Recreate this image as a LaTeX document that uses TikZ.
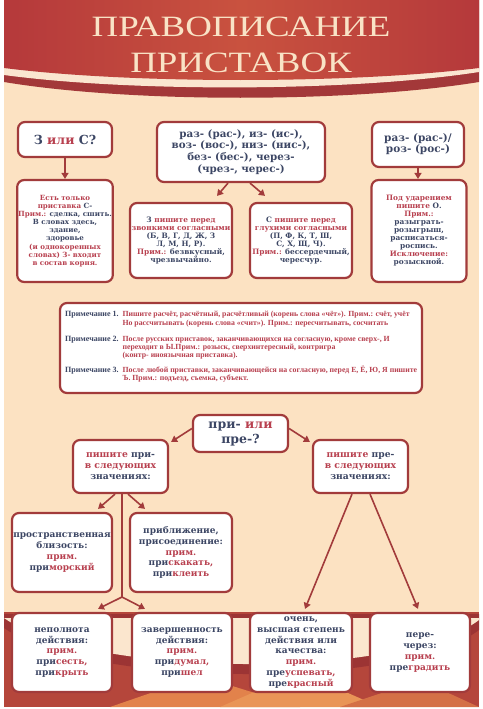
\documentclass[tikz,border=0pt]{standalone}
\usepackage{fontspec}
\setmainfont{DejaVu Serif}
\newfontfamily\titlefont[FakeStretch=1.25]{Liberation Serif}
\newfontfamily\notefont{Liberation Serif}
\usetikzlibrary{arrows.meta}
\definecolor{bgc}{HTML}{FCE2C2}
\definecolor{bowl}{HTML}{FBE6CE}
\definecolor{bord}{HTML}{A23B3B}
\definecolor{tdark}{HTML}{3C4664}
\definecolor{tred}{HTML}{B8404F}
\definecolor{band}{HTML}{B5393B}
\definecolor{bandmid}{HTML}{C9523F}
\definecolor{bandd}{HTML}{A33839}
\definecolor{stripe}{HTML}{FAE6D0}
\definecolor{ttl}{HTML}{F9E3C6}
\definecolor{lowred}{HTML}{B5463B}
\definecolor{loworange}{HTML}{E2824B}
\definecolor{lowlight}{HTML}{E99557}
\definecolor{lowdark}{HTML}{9C3434}
\newcommand{\dk}[1]{\textcolor{tdark}{#1}}
\newcommand{\rd}[1]{\textcolor{tred}{#1}}
\begin{document}
\begin{tikzpicture}[x=1pt,y=-1pt,
  box/.style={draw=bord, line width=2.2pt, rounded corners=7pt, fill=white, align=center, inner sep=1pt},
  arr/.style={draw=bord, line width=1.6pt, -{Triangle[length=6pt,width=7pt]}},
  ln/.style={draw=bord, line width=1.6pt}]
\fill[white] (0,0) rectangle (482,709);
\useasboundingbox (0,0) rectangle (482,709);
\fill[bgc] (4,0) rectangle (479,707);
% title band
\fill[bandd] (4,0) -- (479,0) -- (479,82) .. controls (350,103) and (130,103) .. (4,82) -- cycle;
\fill[stripe] (4,0) -- (479,0) -- (479,72) .. controls (350,92) and (130,92) .. (4,75) -- cycle;
\shade[left color=band, right color=band, middle color=bandmid] (4,0) -- (479,0) -- (479,68) .. controls (350,84) and (130,84) .. (4,68) -- cycle;
\node[font=\titlefont\fontsize{29.5}{29}\selectfont, text=ttl, anchor=base] (t1) at (241,37) {ПРАВОПИСАНИЕ};
\node[font=\titlefont\fontsize{29.5}{29}\selectfont, text=ttl, anchor=base] (t2) at (241,73) {ПРИСТАВОК};
% bottom decoration
\fill[lowred] (4,612) rectangle (479,707);
\fill[loworange] (110,707) -- (200,676) -- (300,707) -- cycle;
\fill[lowlight] (220,707) -- (300,672) -- (380,707) -- cycle;
\fill[loworange!70!lowred] (340,707) -- (420,680) -- (479,707) -- cycle;
\fill[lowdark] (4,614) -- (479,614) -- (479,630) .. controls (400,690) and (90,688) .. (4,628) -- cycle;
\fill[bowl] (4,618) -- (479,618) -- (479,620) .. controls (400,680) and (90,678) .. (4,618) -- cycle;
% row 1
\node[box, minimum width=94pt, minimum height=35pt, font=\bfseries\fontsize{12.5}{14}\selectfont] (A) at (65,139.5) {\dk{З} \rd{или} \dk{С?}};
\node[box, minimum width=168pt, minimum height=60pt, font=\bfseries\fontsize{10.3}{11.7}\selectfont, text=tdark] (B) at (241,152) {раз- (рас-), из- (ис-),\\воз- (вос-), низ- (нис-),\\без- (бес-), через-\\(чрез-, черес-)};
\node[box, minimum width=92pt, minimum height=45pt, font=\bfseries\fontsize{10.5}{10}\selectfont, text=tdark] (C) at (418,144.5) {раз- (рас-)/\\роз- (рос-)};
% row 2
\node[box, minimum width=94pt, minimum height=102pt, font=\bfseries\fontsize{7.1}{8.1}\selectfont] (D) at (65,231) {\rd{Есть только}\\\rd{приставка} \dk{С-}\\\rd{Прим.:} \dk{сделка, сшить.}\\\dk{В словах здесь,}\\\dk{здание,}\\\dk{здоровье}\\\rd{(и однокоренных}\\\rd{словах) З- входит}\\\rd{в состав корня.}};
\node[box, minimum width=102pt, minimum height=75pt, font=\bfseries\fontsize{7.4}{8.1}\selectfont] (E) at (181,240.5) {\dk{З} \rd{пишите перед}\\\rd{звонкими согласными}\\\dk{(Б, В, Г, Д, Ж, З}\\\dk{Л, М, Н, Р).}\\\rd{Прим.:} \dk{безвкусный,}\\\dk{чрезвычайно.}};
\node[box, minimum width=102pt, minimum height=75pt, font=\bfseries\fontsize{7.4}{8.1}\selectfont] (G) at (301,240.5) {\dk{С} \rd{пишите перед}\\\rd{глухими согласными}\\\dk{(П, Ф, К, Т, Ш,}\\\dk{С, Х, Щ, Ч).}\\\rd{Прим.:} \dk{бессердечный,}\\\dk{чересчур.}};
\node[box, minimum width=95pt, minimum height=102pt, font=\bfseries\fontsize{7.4}{8}\selectfont] (F) at (419,231) {\rd{Под ударением}\\\rd{пишите} \dk{О.}\\\rd{Прим.:}\\\dk{разыграть-}\\\dk{розыгрыш,}\\\dk{расписаться-}\\\dk{роспись.}\\\rd{Исключение:}\\\dk{розыскной.}};
\draw[arr] (A) -- (D);
\draw[arr] (C.south) -- (C.south |- F.north);
\draw[arr] ([xshift=-13pt]B.south) -- ([xshift=36pt,yshift=6pt]E.north);
\draw[arr] ([xshift=9pt]B.south) -- ([xshift=-36pt,yshift=6pt]G.north);
% notes
\node[box, minimum width=362pt, minimum height=90pt] (notes) at (241,348) {};
\node[anchor=north west, inner sep=0pt, align=left, font=\notefont\bfseries\fontsize{7.8}{8.2}\selectfont] (ntext) at (65,311) {%
\begin{tabular}{@{}l@{\hspace{4pt}}l@{}}
\dk{\fontsize{8}{8.2}\selectfont Примечание 1.} & \rd{Пишите расчёт, расчётный, расчётливый (корень слова «чёт»). Прим.: счёт, учёт}\\
 & \rd{Но рассчитывать (корень слова «счит»). Прим.: пересчитывать, сосчитать}\\[8pt]
\dk{\fontsize{8}{8.2}\selectfont Примечание 2.} & \rd{После русских приставок, заканчивающихся на согласную, кроме сверх-, И}\\
 & \rd{переходит в Ы.Прим.: розыск, сверхинтересный, контригра}\\
 & \rd{(контр- иноязычная приставка).}\\[6pt]
\dk{\fontsize{8}{8.2}\selectfont Примечание 3.} & \rd{После любой приставки, заканчивающейся на согласную, перед Е, Ё, Ю, Я пишите}\\
 & \rd{Ъ. Прим.: подъезд, съемка, субъект.}
\end{tabular}};
% при / пре
\node[box, minimum width=95pt, minimum height=37pt, font=\bfseries\fontsize{12.5}{15}\selectfont] (H) at (240.5,433.5) {\dk{при-} \rd{или}\\\dk{пре-?}};
\node[box, minimum width=95pt, minimum height=53pt, font=\bfseries\fontsize{9.2}{11}\selectfont] (I) at (120.5,466.5) {\rd{пишите} \dk{при-}\\\rd{в следующих}\\\dk{значениях:}};
\node[box, minimum width=95pt, minimum height=53pt, font=\bfseries\fontsize{9.2}{11}\selectfont] (J) at (360.5,466.5) {\rd{пишите} \dk{пре-}\\\rd{в следующих}\\\dk{значениях:}};
\draw[arr] ([yshift=5pt]H.west) -- ([xshift=2pt,yshift=-3pt]I.north east);
\draw[arr] ([yshift=5pt]H.east) -- ([xshift=-2pt,yshift=-3pt]J.north west);
% row 3
\node[box, minimum width=100pt, minimum height=79pt, font=\bfseries\fontsize{9}{10.7}\selectfont] (K) at (62,552.5) {\dk{пространственная}\\\dk{близость:}\\\rd{прим.}\\\dk{при}\rd{морский}};
\node[box, minimum width=102pt, minimum height=79pt, font=\bfseries\fontsize{9}{10.7}\selectfont] (L) at (181,552.5) {\dk{приближение,}\\\dk{присоединение:}\\\rd{прим.}\\\dk{при}\rd{скакать,}\\\dk{при}\rd{клеить}};
% row 4
\node[box, minimum width=100pt, minimum height=79pt, font=\bfseries\fontsize{9}{10.7}\selectfont] (M) at (62,652.5) {\dk{неполнота}\\\dk{действия:}\\\rd{прим.}\\\dk{при}\rd{сесть,}\\\dk{при}\rd{крыть}};
\node[box, minimum width=100pt, minimum height=79pt, font=\bfseries\fontsize{9}{10.7}\selectfont] (N) at (182,652.5) {\dk{завершенность}\\\dk{действия:}\\\rd{прим.}\\\dk{при}\rd{думал,}\\\dk{при}\rd{шел}};
\node[box, minimum width=102pt, minimum height=79pt, font=\bfseries\fontsize{9}{10.7}\selectfont] (O) at (301,652.5) {\dk{очень,}\\\dk{высшая степень}\\\dk{действия или}\\\dk{качества:}\\\rd{прим.}\\\dk{пре}\rd{успевать,}\\\dk{пре}\rd{красный}};
\node[box, minimum width=100pt, minimum height=79pt, font=\bfseries\fontsize{9}{10.7}\selectfont] (P) at (420,652.5) {\dk{пере-}\\\dk{через:}\\\rd{прим.}\\\dk{пре}\rd{градить}};
% connectors
\draw[arr] ([xshift=-5.5pt]I.south) -- ([xshift=36pt,yshift=3pt]K.north);
\draw[arr] ([xshift=7.5pt]I.south) -- ([xshift=-36pt,yshift=3pt]L.north);
\coordinate (split) at (122,597);
\draw[ln] ([xshift=1.5pt]I.south) -- (split);
\draw[arr] (split) -- ([xshift=36pt,yshift=3pt]M.north);
\draw[arr] (split) -- ([xshift=-37pt,yshift=3pt]N.north);
\draw[arr] ([xshift=-8.5pt]J.south) -- ([xshift=4pt,yshift=3pt]O.north);
\draw[arr] ([xshift=9.5pt]J.south) -- ([xshift=-2pt,yshift=3pt]P.north);
\end{tikzpicture}
\end{document}
